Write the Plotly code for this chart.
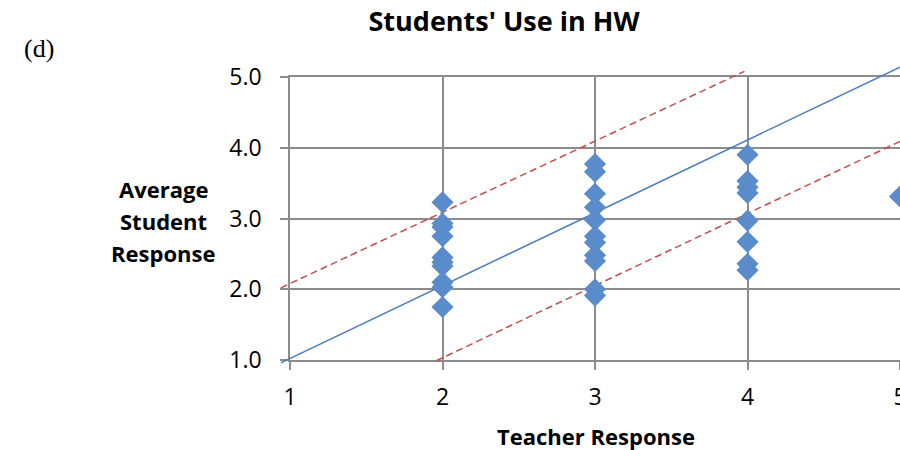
import plotly.graph_objects as go

# Data
teacher_2 = [2, 2, 2, 2, 2, 2, 2, 2, 2, 2]
student_2 = [3.23, 2.93, 2.88, 2.75, 2.45, 2.38, 2.33, 2.10, 2.03, 1.75]
teacher_3 = [3, 3, 3, 3, 3, 3, 3, 3, 3, 3, 3]
student_3 = [3.77, 3.66, 3.35, 3.16, 2.98, 2.75, 2.66, 2.48, 2.40, 2.00, 1.91]
teacher_4 = [4, 4, 4, 4, 4, 4, 4, 4]
student_4 = [3.90, 3.53, 3.44, 3.36, 2.97, 2.67, 2.36, 2.27]
teacher_5 = [5]
student_5 = [3.31]

teacher = teacher_2 + teacher_3 + teacher_4 + teacher_5
student = student_2 + student_3 + student_4 + student_5

# Reference lines (end points as drawn)
ident_x = [0.94, 5.0]
ident_y = [0.96, 5.14]
upper_x = [0.94, 3.98]
upper_y = [2.02, 5.08]
lower_x = [1.96, 5.0]
lower_y = [0.99, 4.09]

x_ticks = [1, 2, 3, 4, 5]
y_ticks = [1.0, 2.0, 3.0, 4.0, 5.0]

FONT = "Open Sans"
GRID = "#8c8c8c"
W, H = 900, 450

# main plot area in pixels
PX_L, PX_R, PY_T, PY_B = 290, 900, 77, 360
XMIN, XMAX, YMIN, YMAX = 1, 5, 1, 5
sx = (PX_R - PX_L) / (XMAX - XMIN)
sy = (PY_B - PY_T) / (YMAX - YMIN)

# overlay area (slightly bigger so lines may run past the axes, as in the reference)
OX_L, OY_T, OY_B = 270, 50, 380
ox_range = [XMIN - (PX_L - OX_L) / sx, XMAX]
oy_range = [YMIN - (OY_B - PY_B) / sy, YMAX + (PY_T - OY_T) / sy]

fig = go.Figure()
# empty trace to create the main subplot holding grid and ticks
fig.add_trace(go.Scatter(x=[], y=[], xaxis="x", yaxis="y", showlegend=False))

fig.add_trace(go.Scatter(x=ident_x, y=ident_y, mode="lines", xaxis="x2", yaxis="y2",
                         line=dict(color="#4a7ebb", width=1.5),
                         showlegend=False, hoverinfo="skip"))
fig.add_trace(go.Scatter(x=upper_x, y=upper_y, mode="lines", xaxis="x2", yaxis="y2",
                         line=dict(color="#c0504d", width=1.5, dash="7px,4px"),
                         showlegend=False, hoverinfo="skip"))
fig.add_trace(go.Scatter(x=lower_x, y=lower_y, mode="lines", xaxis="x2", yaxis="y2",
                         line=dict(color="#c0504d", width=1.5, dash="7px,4px"),
                         showlegend=False, hoverinfo="skip"))
fig.add_trace(go.Scatter(x=teacher, y=student, mode="markers", xaxis="x2", yaxis="y2",
                         marker=dict(symbol="diamond", size=17, color="#5a8ccb",
                                     line=dict(width=0)),
                         showlegend=False))

axis_common = dict(
    showgrid=True, gridcolor=GRID, gridwidth=1.5,
    zeroline=False, showline=True, linecolor=GRID, linewidth=1.5, mirror=True,
    ticks="outside", ticklen=8, tickcolor=GRID, tickwidth=1.5,
    tickfont=dict(family=FONT, size=23), automargin=False,
)

fig.update_layout(
    width=W, height=H,
    margin=dict(l=0, r=0, t=0, b=0),
    paper_bgcolor="white", plot_bgcolor="rgba(0,0,0,0)",
    font=dict(family=FONT, size=18, color="black"),
    title=dict(text="<b>Students' Use in HW</b>", x=504 / W, xanchor="center",
               y=1 - 22 / H, yanchor="middle", font=dict(family=FONT, size=27)),
    xaxis=dict(range=[XMIN, XMAX], domain=[PX_L / W, PX_R / W], anchor="y",
               tickvals=x_ticks, ticktext=[str(v) for v in x_ticks],
               ticklabelstandoff=8, ticklabeloverflow="allow", **axis_common),
    yaxis=dict(range=[YMIN, YMAX], domain=[1 - PY_B / H, 1 - PY_T / H], anchor="x",
               tickvals=y_ticks, ticktext=[f"{v:.1f}" for v in y_ticks],
               ticklabelstandoff=14, **axis_common),
    xaxis2=dict(range=ox_range, domain=[OX_L / W, PX_R / W], anchor="y2",
                visible=False, fixedrange=True),
    yaxis2=dict(range=oy_range, domain=[1 - OY_B / H, 1 - OY_T / H], anchor="x2",
                visible=False, fixedrange=True),
)

for txt, yp in [("Average", 189), ("Student", 221), ("Response", 253)]:
    fig.add_annotation(text=f"<b>{txt}</b>", xref="paper", yref="paper",
                       x=163 / W, y=1 - yp / H,
                       xanchor="center", yanchor="middle", showarrow=False,
                       font=dict(family=FONT, size=22))

fig.add_annotation(text="<b>Teacher Response</b>", xref="paper", yref="paper",
                   x=595.5 / W, y=1 - 436 / H,
                   xanchor="center", yanchor="middle", showarrow=False,
                   font=dict(family=FONT, size=22))

fig.add_annotation(text="(d)", xref="paper", yref="paper",
                   x=22 / W, y=1 - 48 / H,
                   xanchor="left", yanchor="middle", showarrow=False,
                   font=dict(family="Liberation Serif", size=26))

fig.write_html("out.html", config={"displayModeBar": False},
               post_script="document.body.style.margin='0';")
